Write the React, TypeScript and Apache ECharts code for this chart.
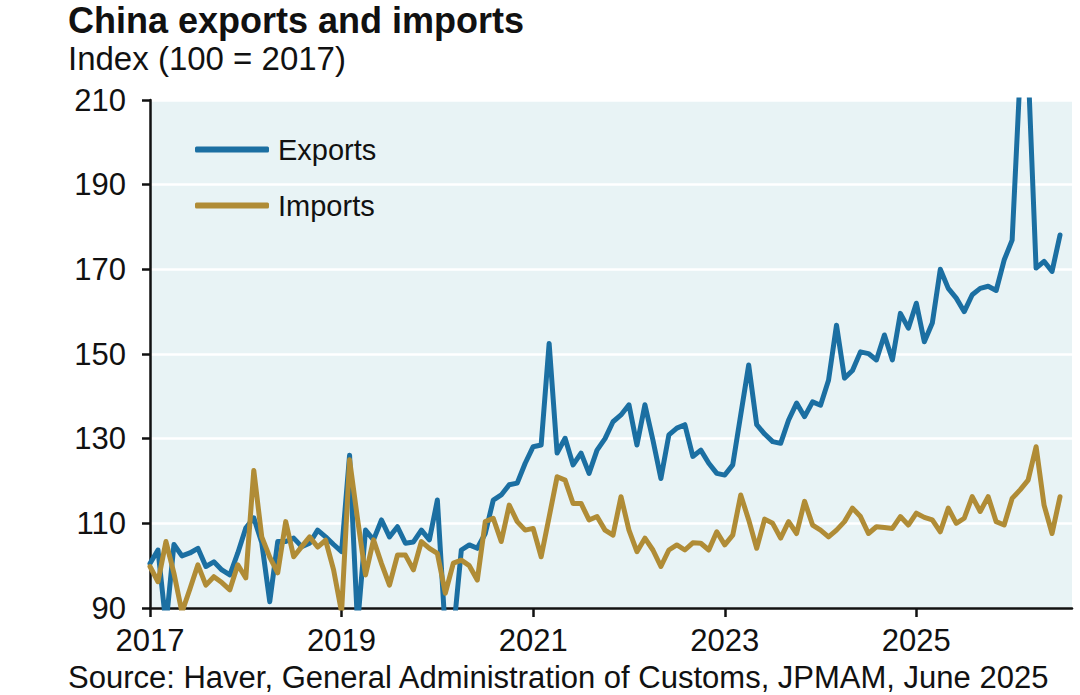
import React, { useEffect, useRef } from "react";
import * as echarts from "echarts";

// Monthly index values, Jan 2017 onwards (100 = 2017)
const exportsIdx = [
  100.5, 103.7, 86, 105, 102.3, 103, 104.1, 99.8, 100.9, 99, 97.8, 103,
  108.9, 111.3, 105.4, 91.5, 105.7, 105.7, 106.5, 104.5, 105.3, 108.4, 106.8, 105,
  103.3, 126.1, 86, 108.4, 106.1, 110.8, 106.8, 109.2, 105.3, 105.6, 108.4, 106.1,
  115.5, 84, 84, 103.7, 104.9, 104.1, 107.6, 115.5, 116.7, 119.1, 119.5, 124.2,
  128.1, 128.5, 152.5, 126.6, 130.1, 123.8, 126.6, 121.8, 127.3, 130, 134, 135.6,
  138, 128.5, 138, 129.7, 120.6, 130.9, 132.5, 133.3, 125.8, 127.3, 124.2, 121.8,
  121.4, 123.8, 135.6, 147.4, 133.3, 131.1, 129.3, 128.9, 134.4, 138.4, 135.2, 138.7,
  137.9, 143.8, 156.8, 144.3, 146.1, 150.5, 150.1, 148.6, 154.5, 148.6, 159.6, 156.1,
  162, 152.9, 157.3, 170, 165.5, 163.2, 160, 164, 165.5, 166, 165, 172.2,
  176.9, 216, 218, 170.3, 171.9, 169.5, 178.1,
];

const importsIdx = [
  99.8, 96.2, 105.7, 98.2, 89, 94.5, 100.2, 95.4, 97.4, 96, 94.3, 100.2,
  97.1, 122.5, 106.8, 102, 98.3, 110.4, 102.1, 104.5, 106.8, 104.4, 106, 99,
  89, 125, 111, 97.8, 106.1, 100.5, 95.4, 102.5, 102.5, 99, 105.7, 104.1,
  102.9, 93.5, 100.6, 101.3, 100, 96.6, 110.4, 111.2, 105.7, 114.3, 110.4, 108.4,
  108.8, 102.1, 111.5, 121, 120.2, 114.7, 114.7, 110.8, 111.6, 108.4, 107.2, 116.3,
  108.4, 103.3, 106.5, 103.7, 99.8, 103.7, 104.9, 103.7, 105.4, 105.3, 103.7, 108,
  104.9, 107.2, 116.7, 110.8, 104.1, 111, 110, 106.5, 110.4, 107.6, 115.2, 109.6,
  108.4, 106.8, 108.4, 110.4, 113.6, 111.6, 107.6, 109.2, 109, 108.8, 111.6, 109.6,
  112.4, 111.4, 110.8, 108, 113.6, 110, 111.2, 116.3, 112.8, 116.3, 110.4, 109.6,
  115.9, 117.9, 120.2, 128.1, 114.3, 107.6, 116.3,
];

// x-axis ticks (months since Jan 2017) and their labels
const tickMonths = [0, 24, 48, 72, 96];
const tickYears = ["2017", "2019", "2021", "2023", "2025"];

const FONT = "'Liberation Sans', Arial, Helvetica, sans-serif";
const BLUE = "#1b6fa2";
const GOLD = "#b08c36";

export default function App() {
  const ref = useRef<HTMLDivElement>(null);

  useEffect(() => {
    document.body.style.margin = "0";
    const chart = echarts.init(ref.current as HTMLDivElement, null, { renderer: "svg" });
    chart.setOption({
      animation: false,
      backgroundColor: "#ffffff",
      textStyle: { fontFamily: FONT },
      graphic: [
        {
          type: "text",
          left: 68,
          top: 2,
          style: {
            text: "China exports and imports",
            fontSize: 36,
            fontWeight: "bold",
            fontFamily: FONT,
            fill: "#111",
          },
        },
        {
          type: "text",
          left: 68,
          top: 42,
          style: {
            text: "Index (100 = 2017)",
            fontSize: 33,
            fontFamily: FONT,
            fill: "#111",
          },
        },
        {
          type: "text",
          left: 68,
          top: 662,
          style: {
            text: "Source: Haver, General Administration of Customs, JPMAM, June 2025",
            fontSize: 31,
            fontFamily: FONT,
            fill: "#111",
          },
        },
      ],
      grid: {
        left: 150,
        right: 8,
        top: 100,
        bottom: 87,
        show: true,
        backgroundColor: "#e8f3f5",
        borderWidth: 0,
      },
      legend: {
        data: ["Exports", "Imports"],
        orient: "vertical",
        left: 195,
        top: 135,
        padding: 0,
        itemWidth: 74,
        itemHeight: 6,
        itemGap: 27,
        icon: "roundRect",
        textStyle: { fontSize: 29, color: "#111", fontFamily: FONT, padding: [0, 0, 0, 4] },
      },
      xAxis: {
        type: "value",
        min: 0,
        max: 115.5,
        axisLine: { show: true, lineStyle: { color: "#111", width: 2.5 } },
        axisTick: {
          show: true,
          length: 9,
          customValues: tickMonths,
          lineStyle: { color: "#111", width: 2.5 },
        },
        splitLine: { show: false },
        axisLabel: {
          customValues: tickMonths,
          formatter: (v: number) => {
            const i = tickMonths.indexOf(v);
            return i >= 0 ? tickYears[i] : "";
          },
          fontSize: 31,
          color: "#111",
          margin: 17,
          fontFamily: FONT,
        },
      },
      yAxis: {
        type: "value",
        min: 90,
        max: 210,
        interval: 20,
        axisLine: { show: true, lineStyle: { color: "#111", width: 2.5 } },
        axisTick: { show: true, length: 8, lineStyle: { color: "#111", width: 2.5 } },
        splitLine: { show: true, lineStyle: { color: "#ffffff", width: 2.5 } },
        axisLabel: { fontSize: 31, color: "#111", margin: 24, fontFamily: FONT },
      },
      series: [
        {
          name: "Exports",
          type: "line",
          data: exportsIdx.map((v, i) => [i, v]),
          showSymbol: false,
          clip: true,
          color: BLUE,
          lineStyle: { color: BLUE, width: 5, cap: "round", join: "round" },
        },
        {
          name: "Imports",
          type: "line",
          data: importsIdx.map((v, i) => [i, v]),
          showSymbol: false,
          clip: true,
          color: GOLD,
          lineStyle: { color: GOLD, width: 5, cap: "round", join: "round" },
        },
      ],
    });
    return () => chart.dispose();
  }, []);

  return <div ref={ref} style={{ width: 1080, height: 695 }} />;
}
